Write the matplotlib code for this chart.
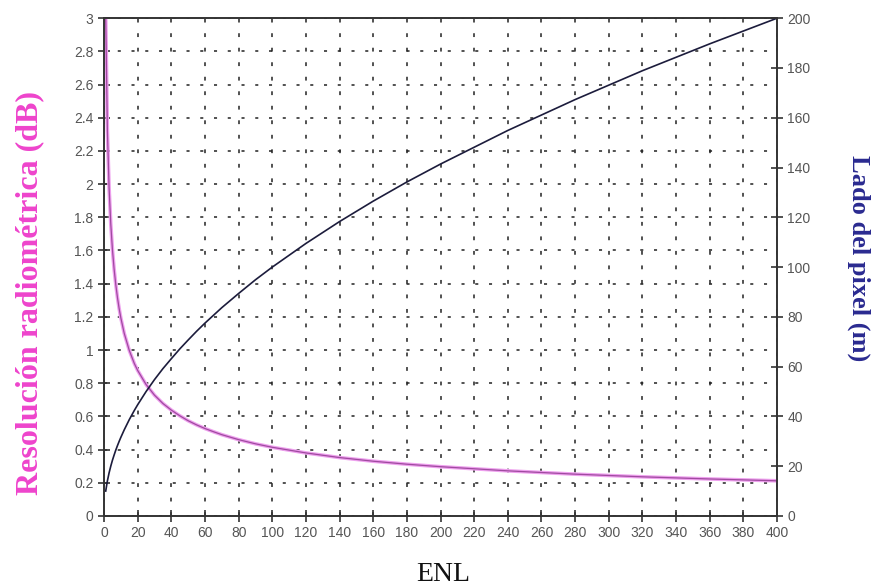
import matplotlib
matplotlib.use("Agg")
import matplotlib.pyplot as plt

# Data
enl = [1, 2, 3, 4, 5, 6, 7, 8, 9, 10, 12, 15, 18, 20, 25, 30, 35, 40, 45, 50,
       55, 60, 65, 70, 80, 90, 100, 120, 140, 160, 180, 200, 240, 280, 320, 360, 400]
resolucion_db = [3.010, 2.322, 1.979, 1.761, 1.605, 1.487, 1.393, 1.315, 1.249, 1.193,
                 1.101, 0.998, 0.919, 0.877, 0.792, 0.728, 0.678, 0.638, 0.604, 0.574,
                 0.549, 0.527, 0.508, 0.490, 0.460, 0.435, 0.414, 0.380, 0.352, 0.330,
                 0.312, 0.297, 0.272, 0.252, 0.236, 0.223, 0.212]
lado_pixel_m = [10, 14.1, 17.3, 20, 22.4, 24.5, 26.5, 28.3, 30, 31.6, 34.6, 38.7, 42.4,
                44.7, 50, 54.8, 59.2, 63.2, 67.1, 70.7, 74.2, 77.5, 80.6, 83.7, 89.4,
                94.9, 100, 109.5, 118.3, 126.5, 134.2, 141.4, 154.9, 167.3, 178.9,
                189.7, 200]

x_ticks = list(range(0, 401, 20))
left_ticks = [round(0.2 * i, 1) for i in range(16)]
right_ticks = list(range(0, 201, 20))

fig = plt.figure(figsize=(8.72, 5.87), dpi=100)
ax = fig.add_axes([0.1193, 0.121, 0.7718, 0.848])
ax2 = ax.twinx()

ax.set_xlim(0, 400)
ax.set_ylim(0, 3)
ax2.set_ylim(0, 200)

ax.set_xticks(x_ticks)
ax.set_yticks(left_ticks)
ax.set_yticklabels([("%g" % v) for v in left_ticks])
ax2.set_yticks(right_ticks)

ax.xaxis.grid(True, color="#222222", linestyle=(0, (2.5, 7)), linewidth=1.1)
ax.yaxis.grid(True, color="#222222", linestyle=(0, (2, 7)), linewidth=1.1)

ax.plot(enl, resolucion_db, color="#eea0ee", linewidth=2.6, solid_capstyle="butt")
ax.plot(enl, resolucion_db, color="#a04aa0", linewidth=0.9)
ax2.plot(enl, lado_pixel_m, color="#1c1c3c", linewidth=1.2)

for a in (ax, ax2):
    for s in a.spines.values():
        s.set_color("#333333")
        s.set_linewidth(1.2)
    a.tick_params(direction="inout", length=8, width=1.2, color="#333333",
                  labelcolor="#555555", labelsize=10)
    for lab in a.get_xticklabels() + a.get_yticklabels():
        lab.set_family("Liberation Sans")

fig.text(0.508, 0.022, "ENL", family="Liberation Serif", fontsize=20,
         color="#111111", ha="center", va="center")
fig.text(0.034, 0.501, "Resolución radiométrica (dB)", family="Liberation Serif",
         fontsize=23, fontweight="bold", color="#ee44cc", rotation=90,
         ha="center", va="center")
fig.text(0.985, 0.56, "Lado del pixel (m)", family="Liberation Serif",
         fontsize=19, fontweight="bold", color="#2a2a90", rotation=-90,
         ha="center", va="center")

fig.savefig("out.png", dpi=100)
